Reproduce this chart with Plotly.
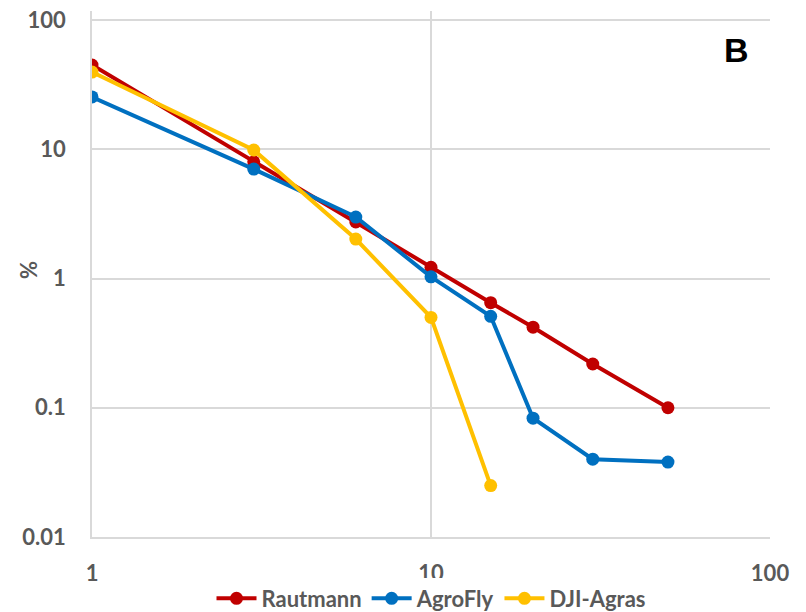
import plotly.graph_objects as go
import math

x_vals = [1, 3, 6, 10, 15, 20, 30, 50]
rautmann = [44.9, 8.0, 2.74, 1.22, 0.65, 0.42, 0.218, 0.10]
agrofly = [25.4, 7.03, 2.99, 1.03, 0.51, 0.083, 0.040, 0.038]
dji_x = [1, 3, 6, 10, 15]
dji = [39.6, 9.87, 2.02, 0.50, 0.025]

y_ticks = [0.01, 0.1, 1, 10, 100]
y_ticktext = ["0.01", "0.1", "1", "10", "100"]
x_ticks = [1, 10, 100]
x_ticktext = ["1", "10", "100"]

FONT = "Lato"
GRAY = "#595959"
GRID = "#D9D9D9"

fig = go.Figure()
for name, xs, ys, col in [("Rautmann", x_vals, rautmann, "#C00000"),
                          ("AgroFly", x_vals, agrofly, "#0070C0"),
                          ("DJI-Agras", dji_x, dji, "#FFC000")]:
    fig.add_trace(go.Scatter(x=xs, y=ys, name=name, mode="lines+markers",
                             line=dict(color=col, width=4),
                             marker=dict(color=col, size=13)))

fig.update_layout(
    width=806, height=612,
    margin=dict(l=92, r=36, t=11, b=75, autoexpand=False),
    plot_bgcolor="white", paper_bgcolor="white",
    font=dict(family=FONT, size=22, color=GRAY),
    showlegend=True,
    legend=dict(orientation="h", x=0.5, xanchor="center", y=0.022, yanchor="middle",
                yref="container",
                font=dict(family=FONT, size=22, color=GRAY, weight="bold"),
                itemwidth=40, tracegroupgap=0),
    xaxis=dict(type="log", range=[0, 2], tickvals=x_ticks, ticktext=x_ticktext,
               showgrid=True, gridcolor=GRID, gridwidth=1.5,
               showline=True, linecolor=GRID, linewidth=1.5,
               ticks="", zeroline=False, ticklabelstandoff=16,
               tickfont=dict(family=FONT, size=22, color=GRAY, weight="bold")),
    yaxis=dict(type="log", range=[-2, 2.07], tickvals=y_ticks, ticktext=y_ticktext,
               showgrid=True, gridcolor=GRID, gridwidth=1.5,
               showline=True, linecolor=GRID, linewidth=1.5,
               ticks="", zeroline=False, ticklabelstandoff=20,
               tickfont=dict(family=FONT, size=22, color=GRAY, weight="bold")),
    annotations=[dict(text="<b>B</b>", x=0.951, y=0.926, xref="paper", yref="paper",
                      xanchor="center", yanchor="middle", showarrow=False,
                      font=dict(family="Liberation Sans", size=34, color="black")),
                 dict(text="%", x=-0.0944, y=0.5076, xref="paper", yref="paper",
                      xanchor="center", yanchor="middle", showarrow=False, textangle=-90,
                      font=dict(family=FONT, size=22, color=GRAY, weight="bold"))],
)
fig.write_html("out.html")
